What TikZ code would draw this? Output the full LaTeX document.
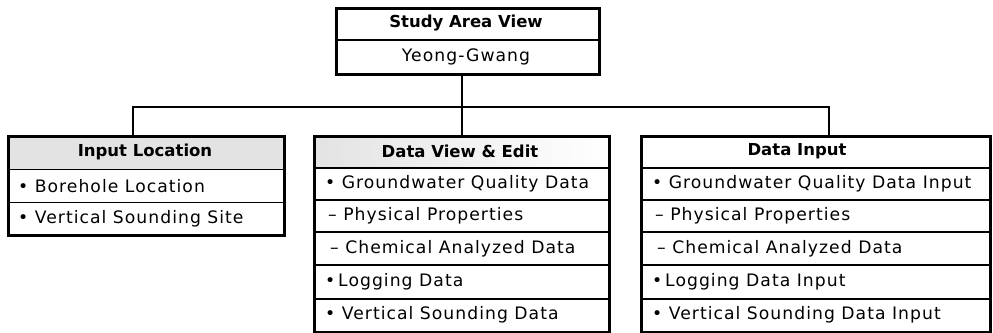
\documentclass[tikz,border=0pt]{standalone}
\usepackage{fontspec}
\setmainfont{DejaVu Sans}
\newfontfamily\rowfont{DejaVu Sans}[LetterSpace=6]
\newfontfamily\hdrfont{DejaVu Sans}[LetterSpace=0]
\begin{document}
\begin{tikzpicture}[x=1pt,y=-1pt,
  box/.style={draw, line width=2.8pt, inner sep=0pt, anchor=north west, minimum width=#1},
  rowline/.style={line width=1.1pt},
  conn/.style={line width=2.8pt},
  txt/.style={anchor=west, inner sep=0pt, font=\fontsize{17.2}{18}\selectfont\rowfont},
  ctxt/.style={inner sep=0pt, font=\fontsize{17.2}{18}\selectfont\rowfont},
  htxt/.style={inner sep=0pt, font=\fontsize{16.5}{18}\selectfont\hdrfont\bfseries}]
\useasboundingbox (0,0) rectangle (993,332);
% header fills
\fill[gray!22] (7,135) rectangle (283,169);
\shade[left color=gray!22, right color=white] (313,135) rectangle (608,168);
% boxes
\node[box=263pt, minimum height=66pt] (top) at (335,7) {};
\node[box=276pt, minimum height=99pt] (left) at (7,135) {};
\node[box=295pt, minimum height=196pt] (mid) at (313,135) {};
\node[box=349pt, minimum height=196pt] (right) at (640,135) {};
% row lines
\draw[rowline] (335,40) -- (598,40);
\foreach \y in {169.5,202.5} \draw[rowline] (7,\y) -- (283,\y);
\foreach \y in {168,200,232,265,299} {
  \draw[rowline] (313,\y) -- (608,\y);
  \draw[rowline] (640,\y) -- (989,\y);
}
% connectors
\coordinate (jn) at (462,107);
\coordinate (hl) at (133,107);
\coordinate (hr) at (829,107);
\draw[conn] (top.south -| jn) -- (jn);
\draw[conn, line cap=rect] (hl) -- (hr);
\draw[conn] (hl) -- (hl |- left.north);
\draw[conn] (jn) -- (jn |- mid.north);
\draw[conn] (hr) -- (hr |- right.north);
% texts top
\node[htxt] (t1) at (466,23.5) {Study Area View};
\node[ctxt] (t2) at (466,57) {Yeong-Gwang};
% left
\node[htxt] (l0) at (145,152) {Input Location};
\node[txt] (l1) at (18,186) {• Borehole Location};
\node[txt] (l2) at (18,218.5) {• Vertical Sounding Site};
% middle
\node[htxt] (m0) at (460,151.5) {Data View \& Edit};
\node[txt] (m1) at (325,184) {• Groundwater Quality Data};
\node[txt] (m2) at (328,216) {– Physical Properties};
\node[txt] (m3) at (330,248.5) {– Chemical Analyzed Data};
\node[txt] (m4) at (325,282) {•\,Logging Data};
\node[txt] (m5) at (325,315) {• Vertical Sounding Data};
% right
\node[htxt] (r0) at (797,151.5) {Data Input};
\node[txt] (r1) at (652,184) {• Groundwater Quality Data Input};
\node[txt] (r2) at (655,216) {– Physical Properties};
\node[txt] (r3) at (657,248.5) {– Chemical Analyzed Data};
\node[txt] (r4) at (652,282) {•\,Logging Data Input};
\node[txt] (r5) at (652,315) {• Vertical Sounding Data Input};
\end{tikzpicture}
\end{document}
